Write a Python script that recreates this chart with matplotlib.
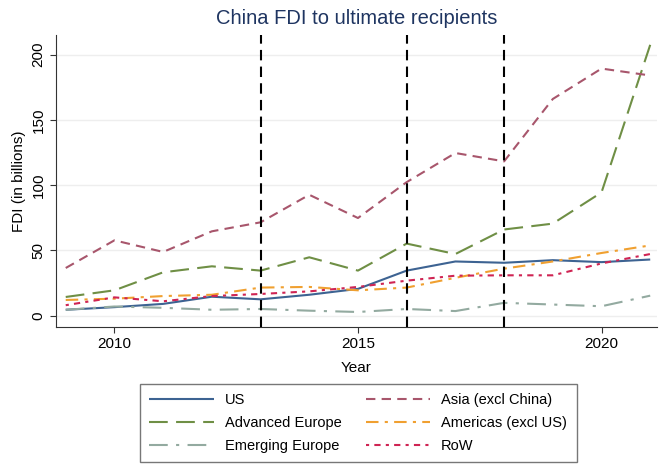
import numpy as np
import matplotlib
matplotlib.use("Agg")
import matplotlib.pyplot as plt

# Daten (Mrd.)
jahre = list(range(2009, 2022))
us = [4.5, 6.5, 9, 14.5, 12.5, 16, 20.5, 34.5, 41.5, 40.5, 42.5, 41, 43]
asien = [36.5, 57.7, 48.8, 64.6, 71.5, 92.6, 74.8, 102.3, 124.6, 118.2, 166, 189.3, 184]
adv_europa = [14.3, 19.4, 33.2, 37.8, 34.5, 44.7, 34.5, 55.2, 47.2, 66, 70.5, 94.4, 207.5]
amerika = [12, 13, 15, 16, 21.5, 22, 19.4, 21.5, 29, 36, 41.5, 48, 53.8]
em_europa = [4.5, 7, 6, 4.5, 5.1, 3.8, 2.8, 5.1, 3.5, 9.8, 8.5, 7.2, 15.3]
row = [8, 14, 11, 15, 16.6, 18.6, 22, 26.8, 30.6, 30.9, 30.9, 40, 47.2]
ereignis_jahre = [2013, 2016, 2018]

plt.rcParams['font.family'] = ['Liberation Sans', 'DejaVu Sans']

fig = plt.figure(figsize=(6.61, 4.67), dpi=100)
ax = fig.add_axes([0.0847, 0.2998, 0.9093, 0.6252])

serien = [
    ("US", us, "#3d6392", (0, ())),
    ("Advanced Europe", adv_europa, "#6f8f45", (0, (9, 4))),
    ("Emerging Europe", em_europa, "#93aaa0", (0, (9, 4, 1.5, 4))),
    ("Asia (excl China)", asien, "#a8566c", (0, (4.5, 3))),
    ("Americas (excl US)", amerika, "#f0a030", (0, (6, 3, 1.5, 3))),
    ("RoW", row, "#cf2453", (0, (1.5, 2.5, 3, 2.5))),
]

handles = []
for name, werte, farbe, stil in serien:
    h, = ax.plot(jahre, werte, color=farbe, linestyle=stil, lw=1.5, label=name)
    handles.append(h)

for j in ereignis_jahre:
    ax.axvline(j, color="black", linestyle=(0, (5, 3)), lw=1.5, zorder=5)

ax.set_xlim(2008.8, 2021.14)
ax.set_ylim(-8.7, 215)
ax.set_yticks([0, 50, 100, 150, 200])
ax.set_xticks([2010, 2015, 2020])
ax.grid(axis="y", color="#eeeeee", lw=1)
ax.set_axisbelow(True)
for s in ["top", "right"]:
    ax.spines[s].set_visible(False)
for s in ["left", "bottom"]:
    ax.spines[s].set_color("#333333")
ax.tick_params(axis="both", labelsize=11, color="#333333", length=4)
plt.setp(ax.get_yticklabels(), rotation=90, va="center")

ax.set_xlabel("Year", fontsize=11)
ax.xaxis.set_label_coords(0.5, -0.118)
ax.set_ylabel("FDI (in billions)", fontsize=11, labelpad=4)
ax.set_title("China FDI to ultimate recipients", fontsize=14.5, color="#1f3561", pad=8)

fig.legend(handles=handles, ncol=2, loc="upper center", bbox_to_anchor=(0.542, 0.178),
           fontsize=10.5, frameon=True, fancybox=False, edgecolor="#555555",
           handlelength=4.4, handletextpad=0.75, columnspacing=1.7,
           labelspacing=0.6, borderpad=0.65, borderaxespad=0)

fig.savefig("out.png", dpi=100, facecolor="white")
